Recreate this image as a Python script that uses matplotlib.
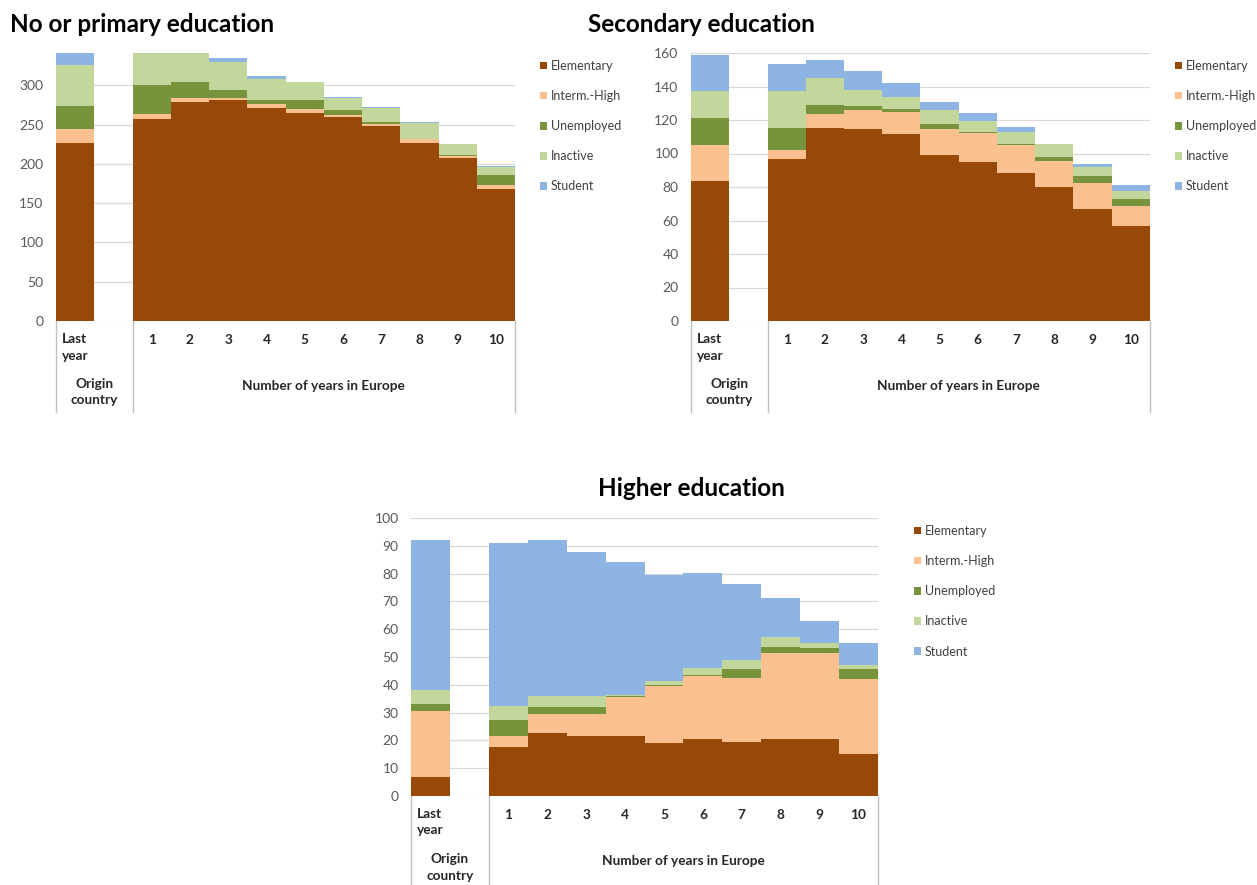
#!/usr/bin/env python3

import numpy as np
from matplotlib import pyplot as plt
from matplotlib.lines import Line2D
from matplotlib.patches import Patch
import matplotlib.transforms as mtransforms

plt.rcParams['font.family'] = ['Lato', 'DejaVu Sans']

W, H = 1257, 885

# Category order: "Last year" (origin country), then years 1..10 in Europe
year_labels = ['1', '2', '3', '4', '5', '6', '7', '8', '9', '10']
status = ['Elementary', 'Interm.-High', 'Unemployed', 'Inactive', 'Student']
colors = ['#984807', '#FAC090', '#77933C', '#C3D69B', '#8EB4E3']

# No or primary education
prim_elementary = [227, 257.5, 279, 281, 270.7, 265, 259, 248, 227, 207, 168]
prim_interm = [17, 5.5, 4.5, 2.5, 5.5, 4.7, 2.5, 2.5, 4.3, 2.5, 4.7]
prim_unemployed = [29, 37, 20.5, 11, 5, 11, 6.4, 2.5, 0.5, 1.7, 12.7]
prim_inactive = [53, 45, 38, 35.5, 26.5, 23, 15.7, 18, 20, 14, 11]
prim_student = [19, 2, 1, 4.5, 4.3, 1, 1.3, 0.8, 1.3, 0, 0.8]

# Secondary education
sec_elementary = [83.5, 97, 115, 114.5, 111.8, 99, 94.8, 88.2, 79.9, 66.9, 56.6]
sec_interm = [21.7, 5.2, 8.7, 11.2, 13.1, 15.5, 17.7, 16.8, 15.9, 15.4, 12.3]
sec_unemployed = [15.9, 12.8, 5.2, 2.8, 1.6, 3.2, 0.6, 0.4, 2.4, 4, 4.2]
sec_inactive = [16.5, 22.6, 15.9, 9.5, 7.5, 8, 6.6, 7.6, 7.4, 5.5, 4.4]
sec_student = [21.4, 16, 10.8, 11, 8.2, 5.2, 4.6, 2.7, 0, 1.8, 3.4]

# Higher education
high_elementary = [6.7, 17.8, 22.8, 21.7, 21.7, 19, 20.5, 19.3, 20.5, 20.5, 15.2]
high_interm = [23.7, 3.9, 6.6, 7.7, 14, 20.4, 22.7, 23, 31.1, 30.9, 26.9]
high_unemployed = [2.6, 5.7, 2.5, 2.5, 0.4, 0.6, 0.4, 3.3, 2.1, 1.8, 3.5]
high_inactive = [5, 5.1, 4.2, 3.9, 0.3, 1.5, 2.6, 3.4, 3.6, 1.8, 1.6]
high_student = [54, 58.5, 55.9, 51.8, 47.9, 37.9, 34.1, 27.1, 14, 7.9, 7.7]


def px_rect(x0, y0, x1, y1):
    """Turn pixel box (top-left origin) into figure fraction rect."""
    return [x0 / W, 1 - y1 / H, (x1 - x0) / W, (y1 - y0) / H]


def draw_panel(fig, rect, series, ymax, yticks, title, title_xy, title_ha, legend_xy):
    ax = fig.add_axes(px_rect(*rect))
    ax_h = rect[3] - rect[1]

    # slot 0 is "Last year", slot 1 left empty, slots 2..11 are years 1..10
    xpos = np.array([0] + list(range(2, 12)))
    bottom = np.zeros(len(xpos))
    for vals, c in zip(series, colors):
        vals = np.array(vals, dtype=float)
        ax.bar(xpos, vals, width=1.0, bottom=bottom, color=c,
               linewidth=0, zorder=3)
        bottom += vals

    ax.set_xlim(-0.5, 11.5)
    ax.set_ylim(0, ymax)
    ax.set_yticks(yticks)
    ax.set_xticks([])
    ax.tick_params(axis='y', length=0, pad=9, labelsize=10, labelcolor='#595959')
    for s in ax.spines.values():
        s.set_visible(False)
    for t in yticks:
        ax.axhline(t, color='#D9D9D9', linewidth=0.9, zorder=1)

    # multi-level category axis below the plot
    tr = mtransforms.blended_transform_factory(ax.transData, ax.transAxes)

    def fy(px):
        return -px / ax_h

    lab_kw = dict(transform=tr, fontsize=9.8, fontweight='bold', color='#262626')
    for xs in (-0.5, 1.5, 11.5):
        ax.add_line(Line2D([xs, xs], [0, fy(91)], transform=tr,
                           color='#BFBFBF', linewidth=1.0, clip_on=False))
    for x, lab in zip(range(2, 12), year_labels):
        ax.text(x, fy(19), lab, ha='center', va='center', **lab_kw)
    ax.text(-0.35, fy(12), 'Last\nyear', ha='left', va='top',
            linespacing=1.45, **lab_kw)
    ax.text(0.5, fy(57), 'Origin\ncountry', ha='center', va='top',
            linespacing=1.45, **lab_kw)
    ax.text(6.5, fy(65), 'Number of years in Europe', ha='center',
            va='center', **lab_kw)

    fig.text(title_xy[0] / W, 1 - title_xy[1] / H, title, ha=title_ha,
             va='center', fontsize=17.5, fontweight='bold', color='black')

    handles = [Patch(facecolor=c, edgecolor='none') for c in colors]
    fig.legend(handles, status, loc='upper left',
               bbox_to_anchor=(legend_xy[0] / W, 1 - legend_xy[1] / H),
               frameon=False, fontsize=9, handlelength=0.55, handleheight=0.55,
               handletextpad=0.3, labelspacing=1.45, borderpad=0,
               borderaxespad=0, labelcolor='#404040')
    return ax


def main():
    fig = plt.figure(figsize=(W / 100, H / 100), dpi=100)

    draw_panel(fig, (56, 53, 515, 321),
               [prim_elementary, prim_interm, prim_unemployed, prim_inactive, prim_student],
               341, [0, 50, 100, 150, 200, 250, 300],
               'No or primary education', (10, 25), 'left', (540, 60))

    draw_panel(fig, (691, 53, 1150, 321),
               [sec_elementary, sec_interm, sec_unemployed, sec_inactive, sec_student],
               160, list(range(0, 161, 20)),
               'Secondary education', (588, 25), 'left', (1175, 60))

    draw_panel(fig, (411, 518, 878, 796),
               [high_elementary, high_interm, high_unemployed, high_inactive, high_student],
               100, list(range(0, 101, 10)),
               'Higher education', (691, 488), 'center', (914, 525))

    fig.savefig('out.png', dpi=100)


if __name__ == '__main__':
    main()
